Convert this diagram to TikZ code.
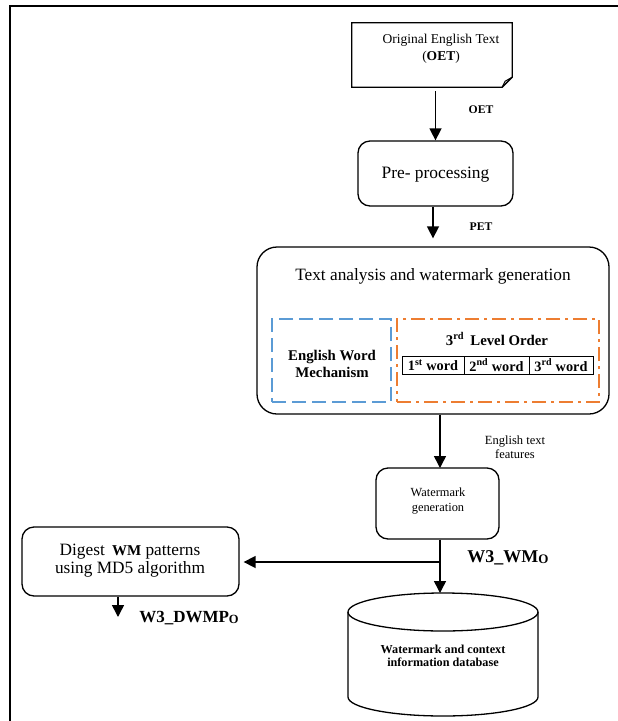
\documentclass[tikz,border=0pt]{standalone}
\usepackage{fontspec}
\setmainfont{Liberation Serif}
\usetikzlibrary{arrows.meta}
\definecolor{wblue}{HTML}{5B9BD5}
\definecolor{worange}{HTML}{ED7D31}
\tikzset{
  box/.style={draw, line width=1.3pt, rounded corners=12pt, inner sep=0pt},
  arr/.style={line width=1.5pt, -{Triangle[length=12pt,width=12pt]}},
  lbl/.style={font=\fontsize{11.7}{13}\selectfont\bfseries, inner sep=0pt},
}
\begin{document}
\begin{tikzpicture}[x=1pt,y=-1pt]
\useasboundingbox (0,0) rectangle (618,721);
\fill[white] (0,0) rectangle (618,721);
% frame
\draw[line width=2pt] (10,721) -- (10,6) -- (618,6);

% document shape
\node[minimum width=160pt, minimum height=64pt, inner sep=0pt] (doc) at (432,55) {};
\draw[line width=1.3pt] (doc.north west) -- (doc.north east) -- ([yshift=10pt]doc.south east)
  -- ([xshift=-10pt]doc.south east) -- (doc.south west) -- cycle;
\draw[line width=1pt] ([xshift=-10pt]doc.south east) -- ([xshift=-7pt,yshift=6pt]doc.south east) -- ([yshift=10pt]doc.south east);
\node[align=center, font=\fontsize{13.5}{17}\selectfont, inner sep=0pt] (doctext) at (441,49) {Original English Text\\(\textbf{OET})};

% pre-processing
\node[box, minimum width=155pt, minimum height=65pt, inner sep=0pt] (pre) at (435.5,173.5) {};
\node[font=\fontsize{17.4}{20}\selectfont, inner sep=0pt] (pret) at (435.5,175) {Pre- processing};
\draw[arr, shorten <=4pt] (doc.south -| pre.north) -- (pre.north);
\node[lbl] (oetl) at (481,110) {OET};

% big box
\node[box, rounded corners=20pt, minimum width=352pt, minimum height=167pt] (big) at (433,330.5) {};
\draw[arr, shorten >=8pt] (pre.south -| 433,0) -- (big.north -| 433,0);
\node[lbl] (petl) at (481,227) {PET};
\node[font=\fontsize{17.3}{20}\selectfont, inner sep=0pt] (bigt) at (433,276) {Text analysis and watermark generation};

\node[draw=wblue, line width=2pt, dash pattern=on 14pt off 6pt, minimum width=119pt, minimum height=83pt, inner sep=0pt] (ewm) at (331.5,360.5) {};
\node[align=center, font=\fontsize{14.8}{17}\selectfont\bfseries, inner sep=0pt] (ewmt) at (332,364) {English Word\\Mechanism};

\node[draw=worange, line width=2pt, dash pattern=on 14pt off 5pt on 3pt off 5pt, minimum width=202pt, minimum height=83pt, inner sep=0pt] (lvl) at (498,360.5) {};
\node[font=\fontsize{14.8}{17}\selectfont\bfseries, inner sep=0pt] (lvlt) at (497,339) {3\textsuperscript{rd}\, Level Order};

\tikzset{cell/.style={draw, line width=0.8pt, minimum height=18pt, inner sep=0pt, font=\fontsize{14.3}{16}\selectfont\bfseries}}
\node[cell, minimum width=62pt] (c1) at (433,365) {1\textsuperscript{st} word};
\node[cell, minimum width=65pt] (c2) at (496.5,365) {2\textsuperscript{nd} word};
\node[cell, minimum width=64pt] (c3) at (561,365) {3\textsuperscript{rd} word};

% watermark generation
\node[box, minimum width=123pt, minimum height=71pt, inner sep=0pt] (wm) at (437.5,503.5) {};
\node[align=center, font=\fontsize{12.4}{15}\selectfont, inner sep=0pt] (wmt) at (438,501) {Watermark\\generation};
\coordinate (wmtop) at (440,468);
\draw[arr] (big.south -| wmtop) -- (wmtop);
\node[align=center, font=\fontsize{12.5}{13.5}\selectfont, inner sep=0pt] (feat) at (515,447) {English text\\features};

% database
\node[minimum width=190pt, minimum height=123pt, inner sep=0pt] (db) at (443,654.5) {};
\coordinate (dbt) at (443,612);
\coordinate (dbb) at (443,697);
\draw[line width=1.3pt] (dbt) ellipse [x radius=95pt, y radius=19pt];
\draw[line width=1.3pt] ([xshift=-95pt]dbt) -- ([xshift=-95pt]dbb)
  arc[start angle=180, end angle=360, x radius=95pt, y radius=19pt] -- ([xshift=95pt]dbt);
\node[align=center, font=\fontsize{12.2}{13.5}\selectfont\bfseries, inner sep=0pt] (dbtext) at (443,656) {Watermark and context\\information database};
\coordinate (dbtop) at (440,593);
\draw[arr] (wm.south -| dbtop) -- (dbtop);

% digest
\node[box, minimum width=217pt, minimum height=69pt, inner sep=0pt] (dig) at (130.5,561.5) {};
\node[align=center, font=\fontsize{17.3}{18}\selectfont, inner sep=0pt] (digt) at (130,561) {Digest \,\textbf{\fontsize{15}{16}\selectfont WM} patterns\\using MD5 algorithm};
\coordinate (split) at (440,562);
\draw[arr, shorten >=4pt] (split) -- (dig.east |- split);
\node[font=\fontsize{18}{20}\selectfont\bfseries, inner sep=0pt] (wmo) at (508,558) {W3\_WM\raisebox{-1pt}{\fontsize{13}{13}\selectfont O}};

\coordinate (dout) at (118,617);
\draw[arr] (dig.south -| dout) -- (dout);
\node[font=\fontsize{17}{19}\selectfont\bfseries, inner sep=0pt] (dwmp) at (189,618) {W3\_DWMP\raisebox{-1pt}{\fontsize{12.5}{13}\selectfont O}};
\end{tikzpicture}
\end{document}
